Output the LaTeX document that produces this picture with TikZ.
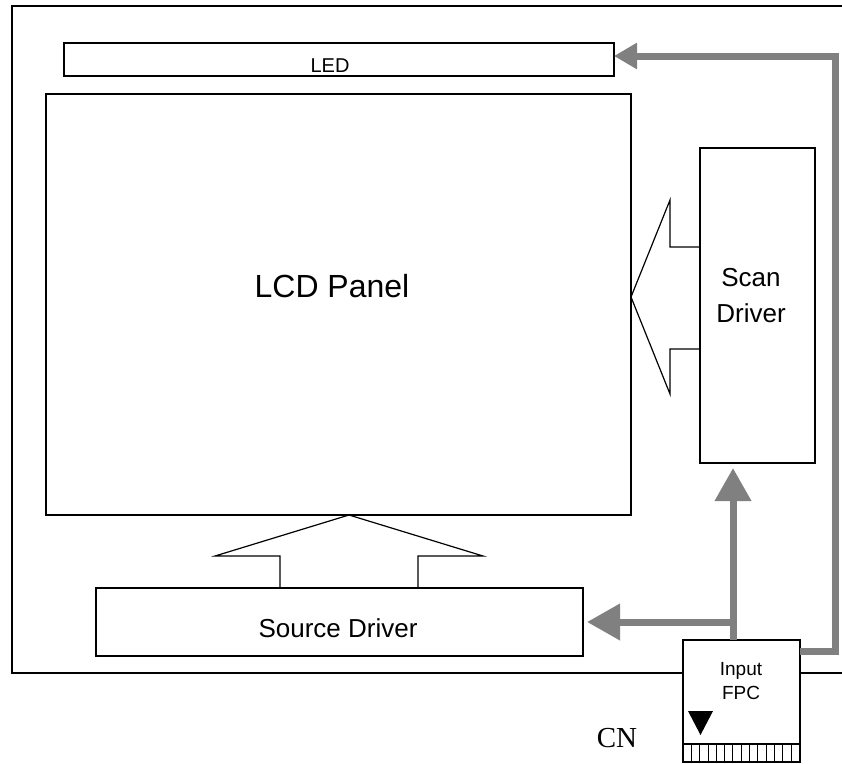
\documentclass[tikz,border=0pt]{standalone}
\usepackage{fontspec}
\setmainfont{Liberation Sans}
\newfontfamily\serifcn{Liberation Serif}
\usetikzlibrary{arrows.meta}
\definecolor{arrowgray}{RGB}{128,128,128}
\tikzset{
  blockbox/.style={draw=black, line width=1.6pt, fill=white, inner sep=0pt, outer sep=0pt},
  lbl/.style={inner sep=0pt, anchor=center},
  hollowarrow/.style={draw=black, line width=1.2pt, line join=miter},
  sig/.style={draw=arrowgray, line width=7pt},
  sighead/.style={-{Triangle[length=33pt,width=35pt]}},
  smallhead/.style={-{Triangle[length=23pt,width=25pt]}}
}
\begin{document}
\begin{tikzpicture}[x=1pt,y=-1pt]
\useasboundingbox (0,0) rectangle (842,763);
% outer frame (open on the right)
\draw[line width=2pt] (842,6) -- (12,6) -- (12,673) -- (842,673);
% blocks
\node[blockbox, minimum width=550pt, minimum height=33pt] (led) at (339,59.5) {};
\node[blockbox, minimum width=585pt, minimum height=421pt] (lcd) at (338.5,304.5) {};
\node[blockbox, minimum width=115pt, minimum height=315pt] (scan) at (757.5,305.5) {};
\node[blockbox, minimum width=487pt, minimum height=68pt] (src) at (339.5,622) {};
\node[blockbox, minimum width=117pt, minimum height=104pt] (fpc) at (741.5,692) {};
\node[blockbox, minimum width=117pt, minimum height=18pt] (strip) at (741.5,753) {};
\foreach \i in {1,...,14} {
  \draw[line width=0.8pt] ({683+\i*8.3},744) -- ({683+\i*8.3},762);
}
% labels
\node[lbl, font=\fontsize{20}{22}\selectfont] (ledtxt) at (330,66) {LED};
\node[lbl, font=\fontsize{32}{34}\selectfont] (lcdtxt) at (332,286) {LCD Panel};
\node[lbl, font=\fontsize{26}{36}\selectfont, align=center] (scantxt) at (751,296) {Scan\\Driver};
\node[lbl, font=\fontsize{26}{28}\selectfont] (srctxt) at (338,628) {Source Driver};
\node[lbl, font=\fontsize{19}{24}\selectfont, align=center] (fpctxt) at (741,681) {Input\\FPC};
\node[lbl, font=\serifcn\fontsize{29}{30}\selectfont] (cn) at (617,738) {CN};
% triangle marker
\fill[black] (688,711) -- (713,711) -- (700.5,735) -- cycle;
% hollow arrows
\draw[hollowarrow] (scan.west |- 0,247) -- (670,247) -- (670,200) -- (lcd.east |- 0,297) -- (670,394) -- (670,349) -- (scan.west |- 0,349);
\draw[hollowarrow] (280,0 |- src.north) -- (280,556) -- (215,556) -- (349,0 |- lcd.south) -- (483,556) -- (418,556) -- (418,0 |- src.north);
% gray signal lines
\coordinate (branch) at (733,622);
\coordinate (scantip) at (733,468);
\coordinate (srctip) at (587,622);
\coordinate (corner1) at (835,651);
\coordinate (corner2) at (835,56);
\draw[sig, sighead] (733,0 |- fpc.north) -- (scantip);
\draw[sig, sighead] (branch) -- (srctip);
\draw[sig, smallhead, line join=miter] (fpc.east |- corner1) -- (corner1) -- (corner2) -- (led.east |- corner2);
\end{tikzpicture}
\end{document}
